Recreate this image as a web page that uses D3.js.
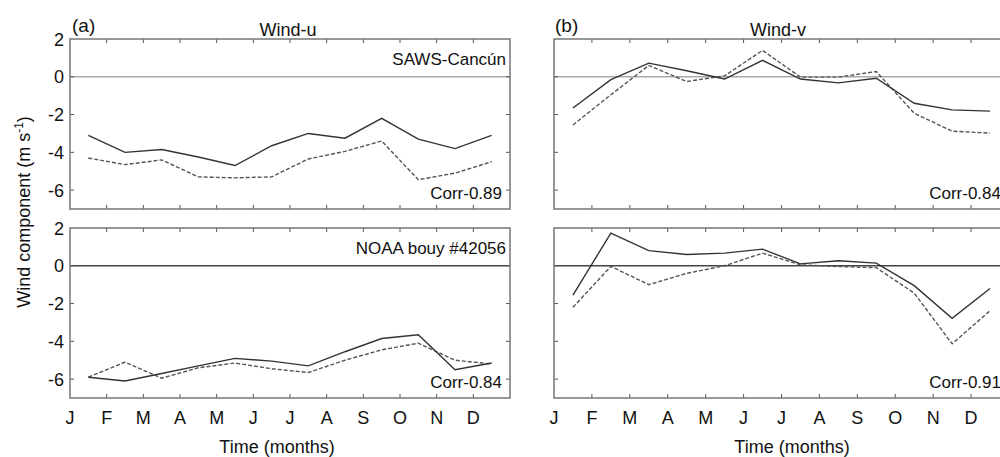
<!DOCTYPE html>
<html>
<head>
<meta charset="utf-8">
<script src="https://cdn.jsdelivr.net/npm/d3@7"></script>
<style>
  body { margin: 0; background: #fff; }
  svg { display: block; font-family: "Liberation Sans", Arial, sans-serif; }
</style>
</head>
<body>
<script>
// month tick labels and data (mid-month values, m/s)
const months = ["J", "F", "M", "A", "M", "J", "J", "A", "S", "O", "N", "D"];
const yTicks = [2, 0, -2, -4, -6];

// (a) Wind-u, SAWS-Cancún
const uSawsSolid = [-3.1, -4.0, -3.85, -4.25, -4.7, -3.65, -3.0, -3.25, -2.2, -3.3, -3.8, -3.1];
const uSawsDashed = [-4.3, -4.65, -4.4, -5.3, -5.35, -5.3, -4.35, -3.95, -3.4, -5.45, -5.1, -4.5];
// (a) Wind-u, NOAA bouy
const uNoaaSolid = [-5.9, -6.1, -5.7, -5.3, -4.9, -5.05, -5.3, -4.55, -3.85, -3.65, -5.5, -5.15];
const uNoaaDashed = [-5.9, -5.1, -5.95, -5.4, -5.15, -5.45, -5.65, -5.0, -4.45, -4.1, -5.0, -5.2];
// (b) Wind-v, SAWS-Cancún
const vSawsSolid = [-1.65, -0.15, 0.72, 0.32, -0.12, 0.87, -0.12, -0.32, -0.08, -1.4, -1.75, -1.82];
const vSawsDashed = [-2.55, -0.95, 0.6, -0.25, 0.05, 1.4, -0.02, -0.02, 0.28, -1.93, -2.88, -2.98];
// (b) Wind-v, NOAA bouy
const vNoaaSolid = [-1.55, 1.73, 0.8, 0.6, 0.67, 0.88, 0.1, 0.27, 0.14, -1.05, -2.78, -1.2];
const vNoaaDashed = [-2.2, -0.03, -1.0, -0.4, 0.0, 0.67, 0.05, -0.04, -0.1, -1.45, -4.13, -2.38];

const panels = [
  { x0: 70, x1: 510, y0: 39, y1: 209, yLabels: true, solid: uSawsSolid, dashed: uSawsDashed,
    zeroColor: "#aaa", station: "SAWS-Cancún", corr: "Corr-0.89" },
  { x0: 70, x1: 510, y0: 228, y1: 398, yLabels: true, solid: uNoaaSolid, dashed: uNoaaDashed,
    zeroColor: "#444", station: "NOAA bouy #42056", corr: "Corr-0.84", xLabels: true, xTitle: 277 },
  { x0: 554, x1: 1009, y0: 39, y1: 209, yLabels: false, solid: vSawsSolid, dashed: vSawsDashed,
    zeroColor: "#aaa", station: null, corr: "Corr-0.84" },
  { x0: 554, x1: 1009, y0: 228, y1: 398, yLabels: false, solid: vNoaaSolid, dashed: vNoaaDashed,
    zeroColor: "#444", station: null, corr: "Corr-0.91", xLabels: true, xTitle: 792 }
];

const width = 1000;
const height = 457;

const svg = d3.select("body").append("svg")
  .attr("width", width)
  .attr("height", height);

panels.forEach(p => {
  const x = d3.scaleLinear().domain([0, 12]).range([p.x0, p.x1]);
  const y = d3.scaleLinear().domain([-7, 2]).range([p.y1, p.y0]);
  const g = svg.append("g");

  // zero line
  g.append("line")
    .attr("x1", p.x0).attr("x2", p.x1)
    .attr("y1", y(0)).attr("y2", y(0))
    .attr("stroke", p.zeroColor).attr("stroke-width", 1.4);

  // inward ticks on all four sides
  const xt = d3.range(1, 12);
  g.selectAll(".tt").data(xt).enter().append("line")
    .attr("x1", d => x(d)).attr("x2", d => x(d))
    .attr("y1", p.y0).attr("y2", p.y0 + 4)
    .attr("stroke", "#555").attr("stroke-width", 1);
  g.selectAll(".tb").data(xt).enter().append("line")
    .attr("x1", d => x(d)).attr("x2", d => x(d))
    .attr("y1", p.y1).attr("y2", p.y1 - 4)
    .attr("stroke", "#555").attr("stroke-width", 1);
  const yt = [-6, -4, -2, 0];
  g.selectAll(".tl").data(yt).enter().append("line")
    .attr("x1", p.x0).attr("x2", p.x0 + 4)
    .attr("y1", d => y(d)).attr("y2", d => y(d))
    .attr("stroke", "#555").attr("stroke-width", 1);
  g.selectAll(".tr").data(yt).enter().append("line")
    .attr("x1", p.x1).attr("x2", p.x1 - 4)
    .attr("y1", d => y(d)).attr("y2", d => y(d))
    .attr("stroke", "#555").attr("stroke-width", 1);

  // data lines
  const line = d3.line().x((d, i) => x(i + 0.5)).y(d => y(d));
  g.append("path").datum(p.dashed)
    .attr("d", line).attr("fill", "none")
    .attr("stroke", "#555").attr("stroke-width", 1.4)
    .attr("stroke-dasharray", "4,2");
  g.append("path").datum(p.solid)
    .attr("d", line).attr("fill", "none")
    .attr("stroke", "#333").attr("stroke-width", 1.4);

  // frame
  g.append("rect")
    .attr("x", p.x0).attr("y", p.y0)
    .attr("width", p.x1 - p.x0).attr("height", p.y1 - p.y0)
    .attr("fill", "none").attr("stroke", "#777").attr("stroke-width", 1.5);

  // y tick labels
  if (p.yLabels) {
    g.selectAll(".yl").data(yTicks).enter().append("text")
      .attr("x", p.x0 - 6).attr("y", d => y(d) + 6.5)
      .attr("text-anchor", "end")
      .attr("font-size", 18).attr("fill", "#111")
      .text(d => d);
  }

  // month labels
  if (p.xLabels) {
    g.selectAll(".xl").data(months).enter().append("text")
      .attr("x", (d, i) => x(i)).attr("y", 424)
      .attr("text-anchor", "middle")
      .attr("font-size", 18).attr("fill", "#111")
      .text(d => d);
    g.append("text")
      .attr("x", p.xTitle).attr("y", 453)
      .attr("text-anchor", "middle")
      .attr("font-size", 18).attr("fill", "#111")
      .text("Time (months)");
  }

  if (p.station) {
    g.append("text")
      .attr("x", p.x1 - 4).attr("y", p.y0 + 26)
      .attr("text-anchor", "end")
      .attr("font-size", 17).attr("fill", "#111")
      .text(p.station);
  }
  g.append("text")
    .attr("x", p.x1 - 8).attr("y", p.y1 - 10)
    .attr("text-anchor", "end")
    .attr("font-size", 17).attr("fill", "#111")
    .text(p.corr);
});

// panel letters and titles
svg.append("text").attr("x", 72).attr("y", 32)
  .attr("font-size", 19).attr("fill", "#111").text("(a)");
svg.append("text").attr("x", 555).attr("y", 32)
  .attr("font-size", 19).attr("fill", "#111").text("(b)");
svg.append("text").attr("x", 288).attr("y", 36).attr("text-anchor", "middle")
  .attr("font-size", 18).attr("fill", "#111").text("Wind-u");
svg.append("text").attr("x", 778).attr("y", 36).attr("text-anchor", "middle")
  .attr("font-size", 18).attr("fill", "#111").text("Wind-v");

// y axis label
const yl = svg.append("text")
  .attr("transform", "translate(30,212) rotate(-90)")
  .attr("text-anchor", "middle")
  .attr("font-size", 18).attr("fill", "#111");
yl.append("tspan").text("Wind component (m s");
yl.append("tspan").attr("font-size", 12).attr("dy", -7).text("-1");
yl.append("tspan").attr("dy", 7).text(")");
</script>
</body>
</html>
